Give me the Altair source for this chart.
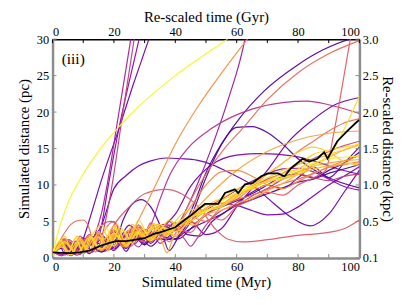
import altair as alt
import pandas as pd

# ---------------- data ----------------
t01 = [0, 1, 2.5, 5, 10, 15, 20, 25, 30, 40, 50, 57, 60]
d01 = [0, 2.2, 4.5, 7.5, 11.5, 14.6, 17.2, 19.5, 21.5, 25, 28, 30, 31]

t02 = [0, 2, 4, 6, 8, 10, 12, 15.8, 21.7, 26, 31.4, 33]
d02 = [0.8, 1.9, 0.6, 1.8, 0.9, 2.6, 5.2, 10.5, 17.8, 23.4, 30, 32]

t03 = [0, 2.5, 5, 7.5, 10, 12, 14, 16, 18, 21, 25.5, 27]
d03 = [0.5, 2.1, 0.4, 2.3, 0.6, 1.6, 3.4, 6.2, 10.5, 18.3, 30, 34]

t04 = [0, 3, 6, 9, 12, 15, 17, 19.6, 23, 26.6, 28]
d04 = [1.0, 0.3, 1.9, 0.5, 2.3, 1.6, 4.6, 10.5, 20.2, 30, 34]

t05 = [0, 3, 6, 10, 13, 16, 18, 21.5, 25, 28.2, 29.5]
d05 = [0.6, 1.8, 0.4, 2.8, 0.8, 4.5, 9.5, 17.5, 24.2, 30, 32.5]

t06 = [0, 3, 6, 9, 12, 15, 18, 21, 23, 26, 33.6, 40, 47.6, 55, 63.5, 66]
d06 = [0.3, 1.5, 0.5, 2.0, 0.8, 2.6, 1.2, 2.4, 1.5, 3.6, 10.0, 15.6, 20.9, 25.3, 30, 31.3]

t07 = [0, 4, 8, 12, 16, 20, 24, 28, 32, 35, 38, 41, 44, 47.6, 52, 57.3, 62.7, 64]
d07 = [1.0, 0.4, 2.0, 0.7, 2.6, 1.0, 3.0, 1.5, 3.6, 2.0, 3.0, 4.6, 7.0, 10.5, 15.3, 21.8, 30, 33]

t08 = [0, 3, 6, 9, 12, 15, 18, 21, 24, 27, 30, 33, 36, 40, 43, 46.5, 49.7, 54, 60.5, 69, 80, 88, 97, 100]
d08 = [0.5, 1.8, 0.6, 2.2, 0.9, 2.8, 1.2, 3.2, 1.5, 3.8, 2.0, 4.2, 2.5, 2.6, 4.5, 7.8, 11.4, 14.9, 18.9, 22.9, 26.5, 28.5, 30, 30.3]

t09 = [0, 4, 8, 12, 16, 20, 24, 28, 32, 35, 38, 41, 44, 50, 56, 61.6, 70, 80, 90, 100]
d09 = [0.8, 2.4, 0.7, 2.9, 1.2, 3.4, 1.6, 3.9, 2.2, 3.4, 2.2, 4.2, 7.0, 11.5, 15.0, 17.6, 21.7, 25.4, 28.0, 29.8]

t10 = [0, 4, 8, 12, 16, 20, 25, 30, 35, 40, 45, 50, 55, 60, 65, 70, 75, 80, 85, 89, 91.7, 94.5, 97.5, 99]
d10 = [0.8, 2.0, 0.5, 2.4, 1.0, 3.0, 1.5, 3.5, 2.5, 4.0, 3.5, 6.0, 5.2, 7.0, 8.0, 9.0, 8.6, 10.0, 11.0, 12.0, 17.2, 23.8, 31, 34]

t11 = [0, 4, 8, 12, 16, 20, 24, 28, 32, 35, 38, 44, 52, 65, 75, 83, 90, 100]
d11 = [0.6, 2.0, 0.8, 2.6, 1.2, 3.4, 2.0, 3.0, 4.5, 8.0, 11.2, 15.0, 17.8, 20.4, 21.3, 21.5, 21.0, 19.8]

t12 = [0, 5, 10, 15, 20, 25, 30, 35, 40, 45, 50, 55, 60, 65, 70, 75, 80, 90, 100]
d12 = [0.4, 2.5, 1.0, 3.5, 1.5, 4.5, 2.5, 4.0, 3.0, 5.6, 11.0, 15.5, 17.9, 18.0, 17.2, 15.6, 13.6, 11.0, 9.6]

t13 = [0, 4, 8, 12, 16, 20, 24, 28, 32, 37, 42, 47, 52, 58, 65, 72, 78, 84, 90, 95, 100]
d13 = [0.8, 1.5, 0.5, 2.0, 4.5, 9.5, 11.3, 12.6, 13.3, 13.7, 13.6, 13.4, 12.8, 11.6, 10.0, 7.5, 5.5, 4.4, 6.0, 9.0, 12.0]

t14 = [0, 4, 8, 12, 16, 20, 24, 28, 32, 36, 40, 45, 52, 60, 68, 78, 86, 93, 100]
d14 = [0.5, 1.8, 0.6, 2.3, 1.0, 3.0, 1.5, 3.8, 2.0, 4.2, 6.0, 9.8, 12.8, 14.1, 14.3, 14.0, 13.2, 12.2, 11.5]

t15 = [0, 4, 8, 12, 16, 20, 25, 30, 37, 42, 48, 53, 57, 62, 70, 80, 90, 95, 100]
d15 = [0.5, 2.5, 0.8, 2.5, 1.2, 4.5, 7.0, 8.8, 9.4, 8.8, 6.8, 4.0, 2.6, 2.2, 2.5, 3.1, 3.5, 4.0, 5.2]

t16 = [0, 5, 10, 15, 20, 25, 30, 35, 40, 45, 50, 55, 60, 65, 70, 76.6, 85, 92, 100]
d16 = [0.7, 2.2, 0.8, 3.0, 1.2, 3.6, 1.8, 4.5, 2.5, 5.0, 3.2, 4.0, 7.0, 9.5, 12.0, 15.8, 19.0, 21.0, 22.0]

t17 = [0, 4, 8, 12, 16, 20, 24, 28, 32, 36, 40, 45, 50, 55, 60, 65, 70, 75, 80, 85, 88, 92, 96, 100]
d17 = [0.3, 2.2, 0.6, 2.8, 1.2, 3.4, 1.8, 3.6, 2.4, 4.2, 3.0, 5.5, 6.5, 7.0, 8.5, 9.8, 10.5, 11.0, 11.5, 12.5, 13.2, 15.2, 18.5, 22.2]

t18 = [0, 4, 8, 12, 16, 20, 24, 28, 32, 38, 45, 52, 60, 70, 80, 90, 100]
d18 = [0.6, 2.0, 0.5, 2.6, 1.0, 3.2, 1.5, 3.8, 2.5, 3.5, 6.0, 9.0, 12.0, 14.6, 16.2, 17.1, 17.4]

t19 = [0, 5, 10, 15, 20, 25, 30, 35, 40, 45, 50, 55, 60, 65, 70, 75, 80, 85, 90, 95, 100]
d19 = [0.9, 2.5, 1.2, 3.2, 1.6, 3.8, 2.2, 4.4, 3.0, 5.6, 5.0, 7.0, 8.4, 9.8, 11.5, 13.0, 14.6, 16.0, 17.4, 18.5, 19.1]

t20 = [0, 3, 6, 9, 12, 15, 18, 21, 24, 27, 30, 34, 38, 42, 46, 50, 55, 60, 65, 70, 75, 80, 85, 90, 95, 100]
d20 = [0.4, 1.8, 0.5, 2.5, 0.9, 3.0, 1.4, 3.4, 1.8, 3.6, 2.5, 4.0, 3.2, 4.8, 4.5, 6.0, 6.5, 7.5, 8.2, 9.2, 10.2, 11.5, 12.8, 13.8, 14.8, 15.5]

t21 = [0, 3, 6, 9, 12, 15, 18, 21, 24, 28, 32, 36, 40, 45, 50, 55, 60, 65, 70, 75, 80, 85, 90, 95, 100]
d21 = [0.2, 1.5, 0.4, 2.2, 0.8, 2.8, 1.0, 3.0, 1.6, 3.4, 2.6, 4.2, 3.6, 5.0, 6.5, 7.2, 8.6, 10.0, 11.5, 13.0, 14.5, 15.2, 14.5, 13.2, 12.7]

t22 = [0, 4, 8, 12, 16, 20, 24, 28, 32, 36, 40, 44, 48, 52, 56, 60, 65, 70, 75, 80, 85, 90, 95, 100]
d22 = [0.7, 1.5, 0.4, 1.9, 0.8, 2.4, 1.3, 3.0, 1.6, 3.3, 4.8, 3.2, 3.0, 5.0, 6.2, 7.5, 9.0, 10.0, 9.5, 11.0, 12.5, 11.0, 13.0, 15.2]

t23 = [0, 3, 6, 9, 12, 15, 18, 21, 24, 27, 30, 34, 38, 42, 46, 50, 55, 60, 65, 70, 75, 80, 85, 90, 95, 100]
d23 = [0.9, 0.3, 1.7, 0.5, 2.2, 0.9, 2.8, 1.4, 3.3, 2.0, 3.9, 2.6, 4.5, 3.5, 5.5, 6.8, 8.0, 9.3, 10.5, 11.5, 12.2, 12.3, 11.8, 10.8, 9.8, 9.3]

t24 = [0, 4, 8, 12, 16, 20, 24, 28, 32, 36, 40, 43, 45, 47, 50, 55, 60, 65, 70, 75, 80, 85, 90, 95, 100]
d24 = [0.4, 2.6, 0.9, 3.2, 1.3, 3.8, 2.0, 4.2, 2.7, 4.6, 4.0, 2.6, 1.6, 2.6, 4.5, 6.5, 7.2, 8.5, 9.5, 10.8, 11.5, 11.0, 10.6, 11.2, 11.5]

t25 = [0, 3, 6, 9, 12, 15, 18, 21, 24, 27, 30, 33, 36, 41, 45, 50, 55, 60, 65, 70, 75, 80, 85, 90, 95, 100]
d25 = [0.3, 1.4, 0.3, 1.7, 0.6, 2.0, 1.0, 2.6, 0.9, 3.0, 1.8, 3.5, 2.9, 2.6, 4.0, 6.0, 7.0, 7.8, 8.8, 10.0, 11.2, 11.5, 11.0, 12.0, 13.0, 14.5]

t26 = [0, 2.5, 5, 7.5, 10, 12.5, 15, 17.5, 20, 23, 26, 29, 32, 35, 38, 41, 45, 50, 55, 60, 65, 70, 75, 80, 85, 90, 95, 100]
d26 = [0.6, 2.4, 0.5, 2.8, 0.8, 3.0, 1.2, 4.2, 1.6, 3.8, 2.0, 4.0, 2.8, 4.6, 3.4, 5.0, 5.6, 6.4, 7.8, 9.0, 9.6, 10.5, 11.3, 12.0, 13.0, 13.6, 13.8, 14.0]

t27 = [0, 3, 6, 9, 12, 15, 18, 21, 24, 27, 30, 33, 35.5, 37.3, 39, 42, 46, 50, 55, 60, 65, 70, 75, 80, 85, 90, 95, 100]
d27 = [0.5, 1.6, 0.4, 2.4, 1.0, 3.4, 1.5, 3.9, 2.2, 4.4, 3.4, 4.0, 2.4, 0.7, 2.4, 4.4, 5.3, 6.4, 7.3, 8.8, 9.8, 10.4, 11.0, 11.8, 12.6, 13.0, 13.3, 13.5]

t28 = [0, 3, 6, 9, 12, 15, 18, 21, 24, 27, 30, 33, 36, 40, 44, 48, 52, 56, 60, 65, 70, 75, 80, 85, 90, 95, 100]
d28 = [0.3, 1.9, 0.6, 2.7, 1.0, 3.6, 1.6, 4.6, 1.8, 4.0, 2.8, 4.7, 3.3, 4.6, 5.2, 6.3, 7.2, 7.6, 8.2, 9.5, 10.6, 11.6, 12.2, 13.4, 14.2, 14.8, 15.5]

t29 = [0, 4, 8, 12, 16, 20, 24, 28, 32, 36, 40, 45, 50, 55, 60, 65, 70, 75, 80, 85, 90, 95, 100]
d29 = [0.5, 2.0, 0.8, 2.8, 1.3, 3.6, 1.6, 4.5, 2.2, 4.3, 3.8, 5.0, 6.5, 7.5, 7.2, 6.5, 5.9, 6.0, 7.0, 8.5, 10.0, 11.2, 12.5]

t30 = [0, 4, 8, 12, 16, 20, 24, 28, 32, 36, 40, 45, 50, 55, 60, 65, 70, 75, 80, 90, 100]
d30 = [0.7, 2.2, 0.6, 3.0, 1.2, 3.8, 1.9, 4.5, 2.6, 3.6, 4.2, 7.0, 10.0, 11.8, 12.0, 11.2, 10.0, 9.5, 10.5, 12.5, 14.0]

t31 = [0, 3, 6, 8, 10, 12, 14, 17, 20, 23, 26, 30, 34, 38, 42, 46, 50, 55, 60, 65, 70, 75, 80, 85, 90, 95, 100]
d31 = [0.4, 2.8, 4.6, 5.1, 5.2, 4.0, 0.8, 3.8, 5.0, 2.6, 4.0, 2.8, 4.6, 3.4, 5.0, 4.8, 5.8, 7.2, 8.0, 8.6, 9.4, 10.2, 10.8, 11.6, 12.4, 12.8, 13.2]

t32 = [0, 3, 6, 9, 12, 15, 17, 19, 21, 23, 26, 29, 32, 35, 38, 41, 44, 48, 52, 56, 60, 65, 70, 75, 80, 85, 90, 95, 100]
d32 = [0.8, 2.2, 0.6, 3.0, 1.0, 3.5, 4.8, 5.0, 4.5, 1.5, 4.2, 2.2, 4.8, 3.0, 5.0, 3.8, 5.5, 6.2, 6.8, 7.2, 8.0, 9.6, 10.8, 11.6, 12.8, 13.6, 14.6, 15.4, 16.0]

t33 = [0, 2, 4, 6, 8, 10, 13, 16, 19, 22, 25, 28, 31, 34, 37, 40, 44, 48, 52, 56, 60, 65, 70, 75, 80, 85, 90, 95, 100]
d33 = [0.2, 1.8, 3.0, 1.2, 2.2, 0.6, 3.2, 4.5, 1.8, 4.2, 2.6, 5.2, 3.4, 4.6, 3.0, 5.0, 6.5, 6.8, 7.6, 8.4, 9.4, 10.0, 11.0, 12.0, 12.8, 14.2, 14.8, 15.2, 15.6]

t34 = [0, 3, 5, 8, 11, 14, 17, 20, 23, 26, 29, 32, 35, 38, 41, 45, 50, 55, 60, 65, 70, 75, 80, 85, 90, 95, 100]
d34 = [0.9, 2.4, 0.7, 3.0, 1.2, 2.9, 2.6, 4.4, 2.0, 4.6, 3.0, 4.4, 3.8, 5.2, 4.4, 5.8, 6.8, 7.9, 8.8, 9.4, 10.0, 10.8, 11.4, 12.2, 12.6, 12.9, 13.0]

t35 = [0, 4, 8, 12, 16, 20, 23, 26, 29, 32, 35, 38, 41, 45, 50, 55, 60, 65, 70, 75, 80, 85, 90, 95, 100]
d35 = [0.6, 1.6, 0.5, 2.4, 0.9, 1.5, 5.2, 7.4, 8.0, 7.0, 4.5, 1.0, 2.8, 4.0, 5.0, 6.0, 7.2, 8.0, 8.8, 9.6, 10.4, 10.8, 11.6, 12.2, 12.8]

# mean track (black)
t_mean = [0, 3, 6, 8.8, 12, 15.3, 18, 20.7, 24, 27.1, 30, 33, 35, 37.9, 40, 43.3, 45, 47.6, 49.7, 52, 54,
          56.2, 59.4, 60.5, 62.7, 65.3, 68, 70.2, 73.4, 75.6, 77.7, 81.5, 83.7, 86.3, 88.5, 89.6, 92.8, 96, 99.3, 100]
d_mean = [0.75, 0.7, 0.65, 0.75, 1.0, 1.6, 2.0, 2.3, 2.3, 2.5, 2.7, 3.3, 3.5, 3.9, 4.2, 5.3, 5.8, 6.7, 7.4, 7.4, 7.4,
          8.9, 9.4, 8.9, 10.1, 10.3, 11.2, 11.6, 11.6, 11.2, 12.3, 13.6, 13.2, 13.6, 14.5, 13.6, 16.0, 17.4, 18.7, 18.9]

curve_colors = ["#f0f921", "#7201a8", "#a62098", "#c33d80", "#8b0aa5", "#f68f44", "#9c179e", "#4b03a1",
                "#e66c5c", "#e45a62", "#b52f8c", "#5402a3", "#6a00a8", "#7e03a8", "#db5c68", "#7000a8",
                "#f7e225", "#fb9f3a", "#e97158", "#fdae32", "#fccf25", "#5c01a6", "#9511a1", "#c03a83",
                "#4c02a1", "#f3ee27", "#fca338", "#fdc328", "#7a02a8", "#f48849", "#e66c5c", "#cc4778",
                "#fbd524", "#feb72d", "#5302a3"]

# drawing order (purple underneath, yellow on top)
draw_order = [8, 12, 13, 14, 16, 22, 25, 29, 35, 2, 5, 3, 7, 23, 11, 24, 4,
              9, 10, 15, 19, 31, 32, 6, 18, 20, 27, 30, 34, 17, 21, 26, 28, 33, 1]

x_major = [0, 20, 40, 60, 80, 100]
x_ticks = [0, 10, 20, 30, 40, 50, 60, 70, 80, 90, 100]
y_ticks = [0, 5, 10, 15, 20, 25, 30]

# ---------------- build table ----------------
all_t = [t01, t02, t03, t04, t05, t06, t07, t08, t09, t10, t11, t12, t13, t14, t15, t16, t17, t18,
         t19, t20, t21, t22, t23, t24, t25, t26, t27, t28, t29, t30, t31, t32, t33, t34, t35]
all_d = [d01, d02, d03, d04, d05, d06, d07, d08, d09, d10, d11, d12, d13, d14, d15, d16, d17, d18,
         d19, d20, d21, d22, d23, d24, d25, d26, d27, d28, d29, d30, d31, d32, d33, d34, d35]
ids = ["c%02d" % n for n in draw_order]
cols = [curve_colors[n - 1] for n in draw_order]
rows = []
for n in draw_order:
    for k, (t, d) in enumerate(zip(all_t[n - 1], all_d[n - 1])):
        rows.append({"id": "c%02d" % n, "t": t, "d": d, "k": k})
df = pd.DataFrame(rows)
dfm = pd.DataFrame({"t": t_mean, "d": d_mean})
dfx = pd.DataFrame({"v": x_ticks})
dfy = pd.DataFrame({"v": y_ticks})

W, H = 310, 221
GRAY = "#8c8c8c"
FONT = "Liberation Serif"

def xs():
    return alt.Scale(domain=[0, 100], nice=False, zero=False)

def ys():
    return alt.Scale(domain=[0, 30], nice=False, zero=False)

lines = alt.Chart(df).mark_line(clip=True, interpolate="monotone", strokeWidth=1.2, opacity=0.95).encode(
    x=alt.X("t:Q", scale=xs(), axis=alt.Axis(orient="bottom", title="Simulated time (Myr)", values=x_major,
            tickSize=0, labelPadding=3, titlePadding=1, domainColor=GRAY, domainWidth=2.5)),
    y=alt.Y("d:Q", scale=ys(), axis=alt.Axis(orient="left", title="Simulated distance (pc)", values=y_ticks,
            tickSize=0, labelPadding=4, titlePadding=5, domainColor=GRAY, domainWidth=2.5)),
    color=alt.Color("id:N", scale=alt.Scale(domain=ids, range=cols), legend=None),
    order="k:Q",
)

mean = alt.Chart(dfm).mark_line(clip=True, color="black", strokeWidth=1.8).encode(
    x=alt.X("t:Q", scale=xs(), axis=None),
    y=alt.Y("d:Q", scale=ys(), axis=None),
)

ticks_bottom = alt.Chart(dfx).mark_rule(color=GRAY, strokeWidth=1).encode(
    x=alt.X("v:Q", scale=xs(), axis=None), y=alt.value(H), y2=alt.value(H - 4))

ticks_top = alt.Chart(dfx).mark_rule(color="black", strokeWidth=1).encode(
    x=alt.X("v:Q", scale=xs(), axis=alt.Axis(orient="top", title="Re-scaled time (Gyr)", values=x_major,
            tickSize=0, labelPadding=1, titlePadding=1, domainColor="black", domainWidth=1.5)),
    y=alt.value(0), y2=alt.value(4))

ticks_left = alt.Chart(dfy).mark_rule(color=GRAY, strokeWidth=1).encode(
    y=alt.Y("v:Q", scale=ys(), axis=None), x=alt.value(0), x2=alt.value(4))

ticks_right = alt.Chart(dfy).mark_rule(color=GRAY, strokeWidth=1).encode(
    y=alt.Y("v:Q", scale=ys(), axis=alt.Axis(orient="right", title="Re-scaled distance (kpc)", values=y_ticks,
            labelExpr="datum.value == 0 ? '0.1' : format(datum.value / 10, '.1f')",
            tickSize=0, labelPadding=3, titlePadding=2, domainColor=GRAY, domainWidth=2.5)),
    x=alt.value(W), x2=alt.value(W - 4))

label = alt.Chart(pd.DataFrame({"x": [3], "y": [26.6], "s": ["(iii)"]})).mark_text(
    align="left", baseline="alphabetic", fontSize=15.5, font=FONT, color="black").encode(
    x=alt.X("x:Q", scale=xs(), axis=None), y=alt.Y("y:Q", scale=ys(), axis=None), text="s:N")

chart = alt.layer(lines, mean, ticks_bottom, ticks_top, ticks_left, ticks_right, label).resolve_scale(
    x="independent", y="independent"
).properties(
    width=W, height=H,
    autosize=alt.AutoSizeParams(type="none"),
    padding={"left": 45, "top": 30, "right": 40, "bottom": 36},
).configure_axis(
    labelFont=FONT, titleFont=FONT, labelFontSize=12.5, titleFontSize=15,
    titleFontWeight="normal", labelColor="black", titleColor="black", grid=False,
).configure_view(stroke=None)

chart.save("out.html", embed_options={"renderer": "svg", "actions": False})
